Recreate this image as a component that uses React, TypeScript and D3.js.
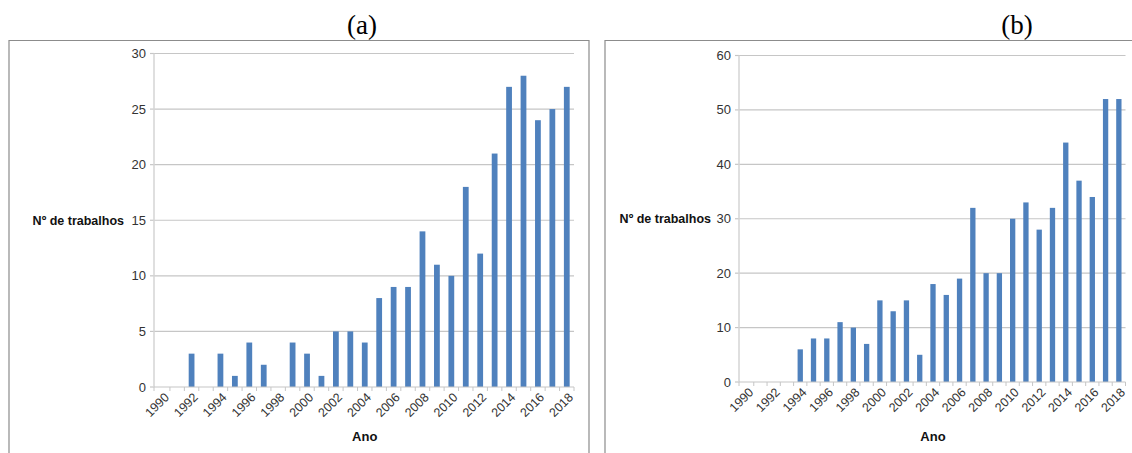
import * as d3 from 'd3';

const years = d3.range(1990, 2019).map(String);
const countsA = [0, 0, 3, 0, 3, 1, 4, 2, 0, 4, 3, 1, 5, 5, 4, 8, 9, 9, 14, 11, 10, 18, 12, 21, 27, 28, 24, 25, 27];
const countsB = [0, 0, 0, 0, 6, 8, 8, 11, 10, 7, 15, 13, 15, 5, 18, 16, 19, 32, 20, 20, 30, 33, 28, 32, 44, 37, 34, 52, 52];
const ticksA = [0, 5, 10, 15, 20, 25, 30];
const ticksB = [0, 10, 20, 30, 40, 50, 60];

const SANS = '"Liberation Sans", Arial, sans-serif';
const BAR = '#4f81bd';

interface PanelProps {
  title: string;
  values: number[];
  ticks: number[];
  box: [number, number]; // left, right of frame
  xRange: [number, number];
  yRange: [number, number];
  titleX: number;
  labelRight: number;
}

function Panel({ title, values, ticks, box, xRange, yRange, titleX, labelRight }: PanelProps) {
  const x = d3.scaleBand<string>().domain(years).range(xRange).paddingInner(0.6).paddingOuter(0.3);
  const band = d3.scaleBand<string>().domain(years).range(xRange);
  const y = d3.scaleLinear().domain([0, ticks[ticks.length - 1]]).range(yRange);
  const axisX = xRange[0] - 1.5;
  const y0 = y(0);
  return (
    <g>
      <text x={titleX} y={34} textAnchor="middle" fontFamily='"Liberation Serif", "Times New Roman", serif' fontSize={27} fill="#000">{title}</text>
      <path d={`M${box[0]},460V40.5H${box[1]}V460`} fill="none" stroke="#8c8c8c" strokeWidth={1.2} />
      {ticks.map(t => (
        <g key={t}>
          {t > 0 && <line x1={axisX} x2={xRange[1]} y1={y(t)} y2={y(t)} stroke="#c6c6c6" strokeWidth={1.2} />}
          <line x1={axisX - 4} x2={axisX} y1={y(t)} y2={y(t)} stroke="#c6c6c6" strokeWidth={1.2} />
          <text x={axisX - 8} y={y(t)} dy="0.35em" textAnchor="end" fontFamily={SANS} fontSize={13} fill="#333">{t}</text>
        </g>
      ))}
      <line x1={axisX} x2={axisX} y1={y(ticks[ticks.length - 1])} y2={y0} stroke="#d4d4d4" strokeWidth={1.5} />
      {values.map((v, i) => (
        <rect key={years[i]} x={x(years[i])} width={x.bandwidth()} y={y(v)} height={y0 - y(v)} fill={BAR} />
      ))}
      <line x1={axisX} x2={xRange[1]} y1={y0} y2={y0} stroke="#c6c6c6" strokeWidth={1.2} />
      {years.map(yr => (
        <line key={yr} x1={band(yr)! + band.bandwidth()} x2={band(yr)! + band.bandwidth()} y1={y0} y2={y0 + 4} stroke="#c6c6c6" />
      ))}
      <line x1={axisX} x2={axisX} y1={y0} y2={y0 + 4} stroke="#c6c6c6" />
      {years.filter((_, i) => i % 2 === 0).map(yr => {
        const cx = band(yr)! + band.bandwidth() / 2 + 4;
        return (
          <text key={yr} transform={`translate(${cx},${y0 + 8}) rotate(-45)`} textAnchor="end" dy="0.35em" fontFamily={SANS} fontSize={12.5} fill="#333">{yr}</text>
        );
      })}
      <text x={(xRange[0] + xRange[1]) / 2} y={441} textAnchor="middle" fontFamily={SANS} fontSize={13} fontWeight="bold" fill="#111">Ano</text>
      <text x={labelRight} y={(yRange[0] + yRange[1]) / 2} dy="0.35em" textAnchor="end" fontFamily={SANS} fontSize={12.5} fontWeight="bold" fill="#111">Nº de trabalhos</text>
    </g>
  );
}

export default function App() {
  return (
    <svg width={1132} height={453} style={{ position: 'absolute', left: 0, top: 0, background: '#fff' }}>
      <Panel title="(a)" values={countsA} ticks={ticksA} box={[9, 589]} xRange={[155.5, 574]} yRange={[387, 53.5]} titleX={362} labelRight={124} />
      <Panel title="(b)" values={countsB} ticks={ticksB} box={[605, 1140]} xRange={[740.5, 1125.5]} yRange={[382, 55.5]} titleX={1017} labelRight={711} />
    </svg>
  );
}
